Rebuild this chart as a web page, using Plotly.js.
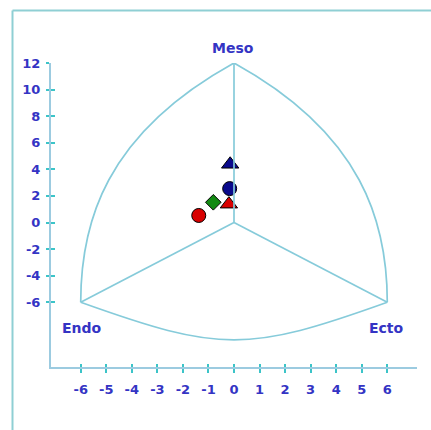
<!DOCTYPE html>
<html>
<head>
<meta charset="utf-8">
<script src="https://cdn.plot.ly/plotly-3.0.1.min.js"></script>
<style>html,body{margin:0;padding:0;background:#fff;}#chart{width:431px;height:430px;}</style>
</head>
<body>
<div id="chart"></div>
<script>
// Somatochart points (x = ecto - endo, y = 2*meso - (endo + ecto))
const pointX = [-0.15, -0.17, -0.2, -0.81, -1.38];
const pointY = [4.38, 2.55, 1.38, 1.52, 0.53];
const pointSymbols = ['triangle-up', 'circle', 'triangle-up', 'diamond', 'circle'];
const pointColors = ['#0a0a8c', '#0a0a8c', '#d80000', '#138a13', '#d80000'];
const pointSizes = [15, 14, 15, 12, 14];

// Tick labels
const xTicks = [-6, -5, -4, -3, -2, -1, 0, 1, 2, 3, 4, 5, 6];
const yTicks = [-6, -4, -2, 0, 2, 4, 6, 8, 10, 12];

// Somatochart frame vertices
const vertexNames = ['Meso', 'Endo', 'Ecto'];
const vertexX = [0, -6, 6];
const vertexY = [12, -6, -6];

const lineCol = '#86cbda';
const txtCol = '#3434c4';
const W = 431, H = 430;
const M = {l: 51, r: 14, t: 63, b: 63};
const pw = W - M.l - M.r, ph = H - M.t - M.b;
const px = v => (v - M.l) / pw;
const py = v => 1 - (v - M.t) / ph;

const shapes = [];
// lines from centre to vertices
for (let i = 0; i < 3; i++) {
  shapes.push({type: 'line', xref: 'x', yref: 'y', x0: 0, y0: 0, x1: vertexX[i], y1: vertexY[i],
    line: {color: lineCol, width: 1.7}});
}
// curved boundary
const arcs = [
  'M 0,12 C -5.07,6.63 -6,-0.1 -6,-6',
  'M 0,12 C 5.07,6.63 6,-0.1 6,-6',
  'M -6,-6 C -0.53,-9.77 0.53,-9.77 6,-6'
];
arcs.forEach(p => shapes.push({type: 'path', xref: 'x', yref: 'y', path: p,
  line: {color: lineCol, width: 1.7}}));
// outer frame (left and top edges)
shapes.push({type: 'line', xref: 'paper', yref: 'paper', x0: px(12.5), y0: py(10.5), x1: px(12.5), y1: py(432),
  line: {color: '#8fcfd4', width: 2}});
shapes.push({type: 'line', xref: 'paper', yref: 'paper', x0: px(12.5), y0: py(10.5), x1: px(433), y1: py(10.5),
  line: {color: '#8fcfd4', width: 2}});

const annFont = {family: 'DejaVu Sans', size: 14, color: txtCol, weight: 700};
const annPos = [[233, 48], [81.5, 328], [386.5, 328]];
const annotations = vertexNames.map((n, i) => ({
  text: n, xref: 'paper', yref: 'paper', x: px(annPos[i][0]), y: py(annPos[i][1]),
  xanchor: 'center', yanchor: 'middle', showarrow: false, font: annFont
}));

const tickFont = {family: 'DejaVu Sans', size: 13, color: txtCol, weight: 700};
const xr = [-7.163, 7.163], yr = [-10.87, 12];

const data = [{
  type: 'scatter', mode: 'markers', x: pointX, y: pointY,
  marker: {symbol: pointSymbols, color: pointColors, size: pointSizes, opacity: 1,
    line: {color: '#000', width: 1}},
  hoverinfo: 'x+y', showlegend: false, cliponaxis: false
}, {
  type: 'scatter', mode: 'markers', x: [0], y: [0], xaxis: 'x2', yaxis: 'y2',
  marker: {opacity: 0}, hoverinfo: 'skip', showlegend: false
}];

const layout = {
  width: W, height: H, margin: M,
  paper_bgcolor: '#fff', plot_bgcolor: '#fff', showlegend: false,
  xaxis: {range: xr, tickvals: xTicks, ticktext: xTicks.map(String), showgrid: false, zeroline: false,
    showline: true, linecolor: '#9ccbe0', linewidth: 2, ticks: 'outside', ticklen: 4, tickwidth: 2,
    tickcolor: '#3cc4c8', tickfont: tickFont, ticklabelstandoff: 5, fixedrange: true},
  yaxis: {range: yr, tickvals: yTicks, ticktext: yTicks.map(String), showgrid: false, zeroline: false,
    showline: true, linecolor: '#9ccbe0', linewidth: 2, ticks: 'outside', ticklen: 3, tickwidth: 2,
    tickcolor: '#3cc4c8', tickfont: tickFont, ticklabelstandoff: 3, fixedrange: true},
  xaxis2: {overlaying: 'x', anchor: 'y', range: xr, tickvals: xTicks, showticklabels: false, showgrid: false,
    zeroline: false, showline: false, ticks: 'inside', ticklen: 3, tickwidth: 2, tickcolor: '#3cc4c8', fixedrange: true},
  yaxis2: {overlaying: 'y', anchor: 'x', range: yr, tickvals: yTicks, showticklabels: false, showgrid: false,
    zeroline: false, showline: false, ticks: 'inside', ticklen: 4, tickwidth: 2, tickcolor: '#3cc4c8', fixedrange: true},
  shapes: shapes, annotations: annotations
};

Plotly.newPlot('chart', data, layout, {displayModeBar: false, staticPlot: true});
</script>
</body>
</html>
